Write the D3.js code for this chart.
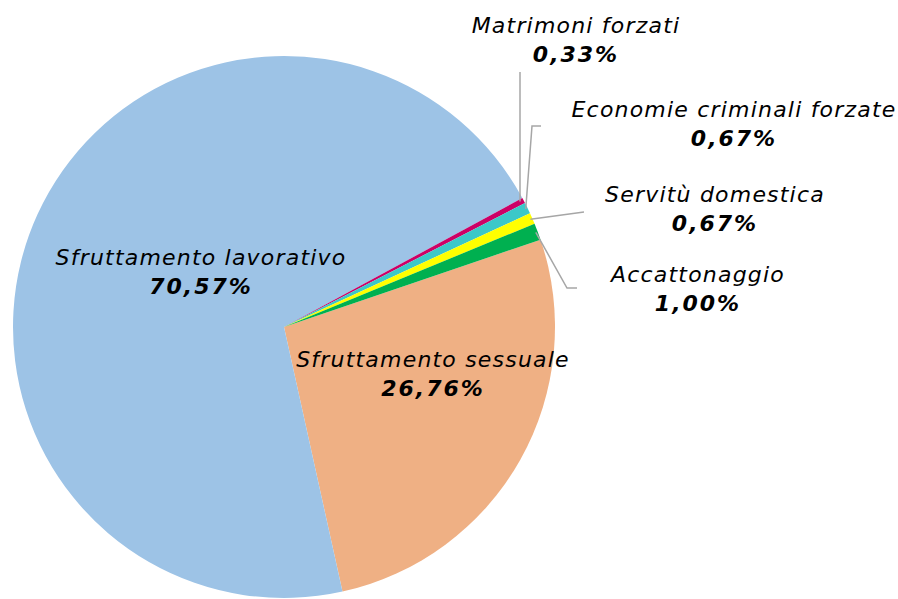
<!DOCTYPE html>
<html>
<head>
<meta charset="utf-8">
<script src="https://cdn.jsdelivr.net/npm/d3@7"></script>
<style>
  body { margin: 0; background: #fff; }
  text { font-family: "DejaVu Sans", Verdana, sans-serif; font-size: 22px; fill: #000; }
  .name { font-style: italic; letter-spacing: 1.2px; }
  .value { font-style: italic; font-weight: bold; letter-spacing: 2px; }
</style>
</head>
<body>
<div id="chart"></div>
<script>
// data (clockwise order, starting with the orange slice)
var categories = ["Sfruttamento sessuale", "Sfruttamento lavorativo", "Matrimoni forzati",
  "Economie criminali forzate", "Servitù domestica", "Accattonaggio"];
var values = [26.76, 70.57, 0.33, 0.67, 0.67, 1.00];
var valueLabels = ["26,76%", "70,57%", "0,33%", "0,67%", "0,67%", "1,00%"];
var colors = ["#EFB084", "#9DC3E6", "#CC0066", "#3CC8C8", "#FFFF00", "#00B050"];

var svgWidth = 898;
var svgHeight = 599;
var cx = 284, cy = 327, radius = 271;

var svg = d3.select("#chart")
  .append("svg")
  .attr("width", svgWidth)
  .attr("height", svgHeight);

var g = svg.append("g")
  .attr("transform", `translate(${cx}, ${cy})`);

var startDeg = 71.2;
var pie = d3.pie()
  .sort(null)
  .value(d => d)
  .startAngle(startDeg * Math.PI / 180)
  .endAngle(startDeg * Math.PI / 180 + 2 * Math.PI);

var arc = d3.arc().innerRadius(0).outerRadius(radius);
var arcs = pie(values);

g.selectAll("path")
  .data(arcs)
  .enter()
  .append("path")
  .attr("d", arc)
  .attr("fill", (d, i) => colors[i]);

// point on the pie edge at the middle of a slice
function edgePoint(d, r) {
  var a = (d.startAngle + d.endAngle) / 2;
  return [r * Math.sin(a), -r * Math.cos(a)];
}

// label layout (relative to pie center): x, baseline of name line, leader line points
var layout = [
  { x: 149, y: 40, lead: null },
  { x: -83, y: -62, lead: null },
  { x: 292, y: -294, lead: [[236, -255]] },
  { x: 450, y: -210, lead: [[248, -201], [257, -201]] },
  { x: 431, y: -125, lead: [[300, -115]] },
  { x: 414, y: -45, lead: [[283, -39], [293, -39]] }
];

layout.forEach(function(l, i) {
  if (l.lead) {
    var p0 = edgePoint(arcs[i], radius - 2);
    var pts = [p0].concat(l.lead);
    if (i === 2) pts = [[l.lead[0][0], p0[1]], l.lead[0]];
    g.append("path")
      .attr("d", d3.line()(pts))
      .attr("fill", "none")
      .attr("stroke", "#A6A6A6")
      .attr("stroke-width", 1.5);
  }
  g.append("text")
    .attr("class", "name")
    .attr("x", l.x)
    .attr("y", l.y)
    .attr("text-anchor", "middle")
    .text(categories[i]);
  g.append("text")
    .attr("class", "value")
    .attr("x", l.x)
    .attr("y", l.y + 29)
    .attr("text-anchor", "middle")
    .text(valueLabels[i]);
});
</script>
</body>
</html>
